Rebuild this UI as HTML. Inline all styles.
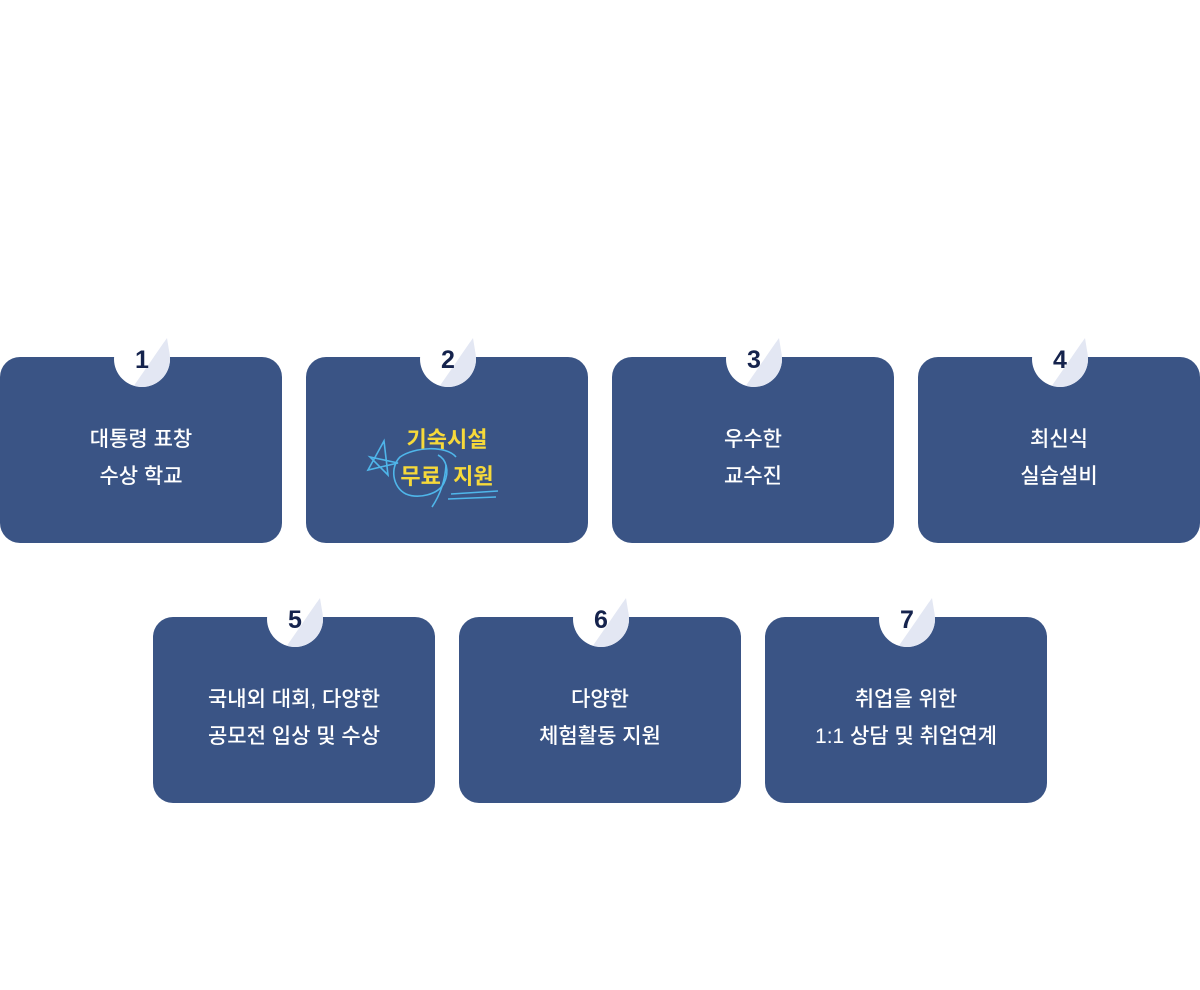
<!DOCTYPE html>
<html><head><meta charset="utf-8"><style>
body{margin:0;width:1200px;height:990px;background:#fff;position:relative;font-family:"Liberation Sans","Noto Sans CJK KR",sans-serif;overflow:hidden}
.card{position:absolute;width:282px;height:186px;background:#3a5485;border-radius:20px}
.t{position:absolute;left:0;right:0;top:64px;text-align:center;color:#fff;font-size:21px;font-weight:500;line-height:37px}
.b{position:absolute;width:60px;height:60px}
.n{position:absolute;width:56px;text-align:center;font-size:25px;font-weight:bold;color:#15234d;line-height:30px}
</style></head><body>
<svg width="0" height="0" style="position:absolute"><defs>
<clipPath id="cp"><polygon points="20,58 54,9 60,0 60,60"/></clipPath>
<g id="bd"><circle cx="29" cy="30" r="28" fill="#fff"/><polygon points="38.1,3.5 54,9 56.7,25.6 29,30" fill="#fff"/>
<g clip-path="url(#cp)"><circle cx="29" cy="30" r="28" fill="#e3e7f3"/><polygon points="38.1,3.5 54,9 56.7,25.6 29,30" fill="#e3e7f3"/></g></g>
</defs></svg>
<div class="card" style="left:0;top:357px"><div class="t">대통령 표창<br>수상 학교</div></div>
<div class="card" style="left:306px;top:357px"><div class="t" style="color:#f6d93a;font-weight:bold;font-size:22px">기숙시설<br>무료&nbsp; 지원</div>
<svg style="position:absolute;left:0;top:0" width="282" height="186">
<g fill="none" stroke="#4fb6ea" stroke-width="1.6">
<path d="M150 100 C140 88 108 90 94 100 C84 110 86 130 100 137 C112 142 132 138 138 126 C144 114 140 102 132 98"/>
<path d="M140 108 C139 125 134 138 126 150"/>
<path d="M62 113 L78 84 L82 118 L64 100 L92 106 Z"/>
<path d="M145 137 L192 134 M142 142 L190 140"/>
</g></svg></div>
<div class="card" style="left:612px;top:357px"><div class="t">우수한<br>교수진</div></div>
<div class="card" style="left:918px;top:357px"><div class="t">최신식<br>실습설비</div></div>
<div class="card" style="left:153px;top:617px"><div class="t">국내외 대회, 다양한<br>공모전 입상 및 수상</div></div>
<div class="card" style="left:459px;top:617px"><div class="t">다양한<br>체험활동 지원</div></div>
<div class="card" style="left:765px;top:617px"><div class="t">취업을 위한<br>1:1 상담 및 취업연계</div></div>

<svg class="b" style="left:113px;top:329px"><use href="#bd"/></svg><div class="n" style="left:114px;top:345px">1</div>
<svg class="b" style="left:419px;top:329px"><use href="#bd"/></svg><div class="n" style="left:420px;top:345px">2</div>
<svg class="b" style="left:725px;top:329px"><use href="#bd"/></svg><div class="n" style="left:726px;top:345px">3</div>
<svg class="b" style="left:1031px;top:329px"><use href="#bd"/></svg><div class="n" style="left:1032px;top:345px">4</div>
<svg class="b" style="left:266px;top:589px"><use href="#bd"/></svg><div class="n" style="left:267px;top:605px">5</div>
<svg class="b" style="left:572px;top:589px"><use href="#bd"/></svg><div class="n" style="left:573px;top:605px">6</div>
<svg class="b" style="left:878px;top:589px"><use href="#bd"/></svg><div class="n" style="left:879px;top:605px">7</div>
</body></html>
